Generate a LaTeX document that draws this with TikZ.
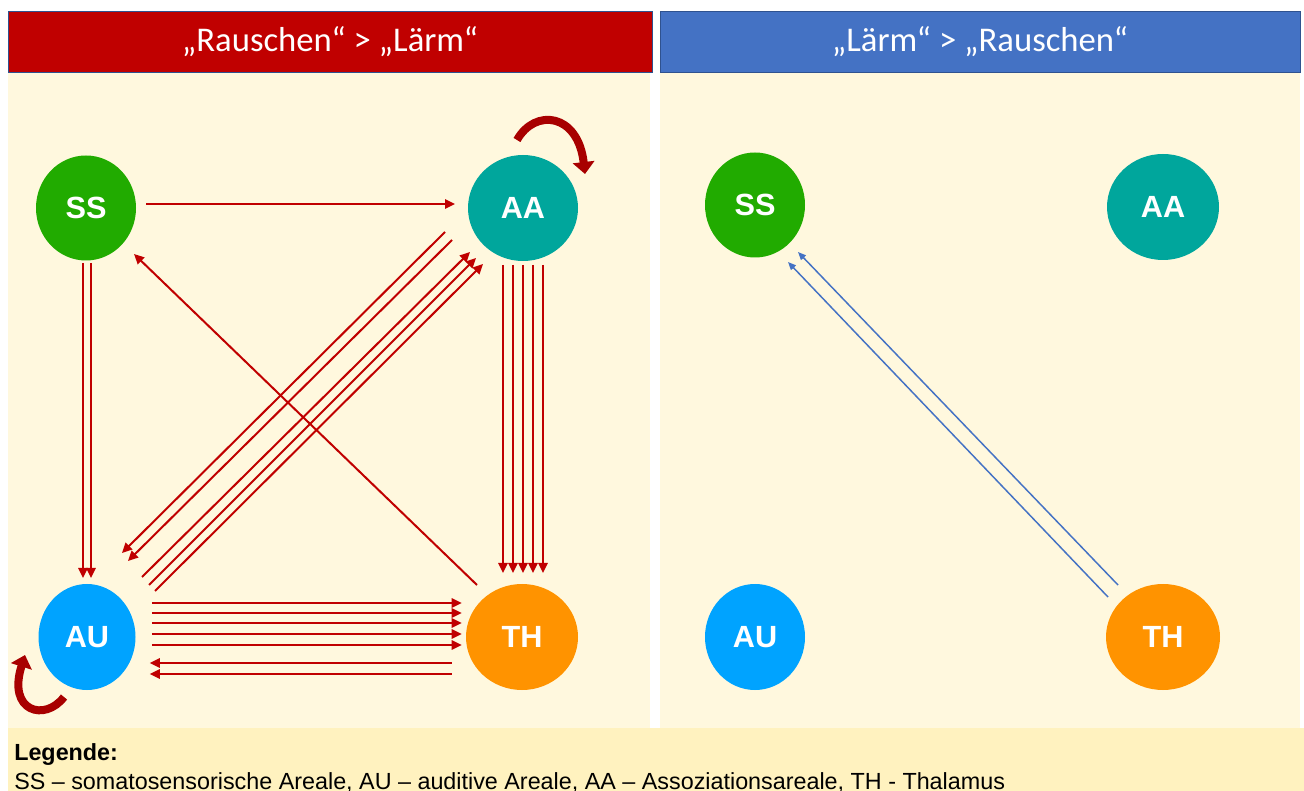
\documentclass[tikz,border=0pt]{standalone}
\usepackage{fontspec}
\setmainfont{Liberation Sans}
\newfontfamily\headfont{Carlito}
\usetikzlibrary{shapes.geometric,arrows.meta,calc}

\definecolor{hred}{HTML}{C00000}
\definecolor{hblue}{HTML}{4472C4}
\definecolor{hline}{HTML}{2F528F}
\definecolor{panel}{HTML}{FFF8DE}
\definecolor{legbg}{HTML}{FFF2BF}
\definecolor{ssgreen}{HTML}{21AB00}
\definecolor{aateal}{HTML}{00A69C}
\definecolor{aublue}{HTML}{00A3FF}
\definecolor{thorange}{HTML}{FF9300}
\definecolor{linkred}{HTML}{C00000}
\definecolor{loopred}{HTML}{A80000}
\definecolor{linkblue}{HTML}{4472C4}

\tikzset{
  area/.style={ellipse, inner sep=0pt, text=white,
    font=\fontsize{23}{23}\selectfont\bfseries},
  header/.style={draw=hline, line width=0.5pt, text=white,
    minimum height=45.75pt, inner sep=0pt,
    font=\headfont\fontsize{26}{26}\selectfont},
  link/.style={draw=linkred, line width=1.5pt,
    -{Triangle[length=7.5pt,width=7pt]}},
  bluelink/.style={draw=linkblue, line width=1.1pt,
    -{Triangle[length=6pt,width=5pt]}},
  selfloop/.style={draw=loopred, line width=6pt,
    -{Triangle[length=9pt,width=16pt]}},
}

\begin{document}
\begin{tikzpicture}[x=0.75pt,y=-0.75pt]
\useasboundingbox (0,0) rectangle (1304,791);
\fill[white] (0,0) rectangle (1304,791);

% panel backgrounds
\fill[panel] (8,72) rectangle (650,728);
\fill[panel] (660,72) rectangle (1300,728);
\fill[legbg] (8,728) rectangle (1304,791);

% headers
\node[header, fill=hred, minimum width=483pt] (hleft) at (330,41.5)
  {„Rauschen“ > „Lärm“};
\node[header, fill=hblue, minimum width=480pt] (hright) at (980,42)
  {„Lärm“ > „Rauschen“};

% areas, left panel
\node[area, fill=ssgreen,  minimum width=75pt,   minimum height=78.75pt] (ss) at (86,208)  {SS};
\node[area, fill=aateal,   minimum width=82.5pt, minimum height=79.5pt]  (aa) at (523,208) {AA};
\node[area, fill=aublue,   minimum width=72.75pt,minimum height=79.5pt]  (au) at (87,637)  {AU};
\node[area, fill=thorange, minimum width=84pt,   minimum height=79.5pt]  (th) at (522,637) {TH};

% areas, right panel
\node[area, fill=ssgreen,  minimum width=75pt,   minimum height=78.75pt] (ss2) at (755,205)  {SS};
\node[area, fill=aateal,   minimum width=84pt,   minimum height=79.5pt]  (aa2) at (1163,207) {AA};
\node[area, fill=aublue,   minimum width=75pt,   minimum height=79.5pt]  (au2) at (755,637)  {AU};
\node[area, fill=thorange, minimum width=85.5pt, minimum height=79.5pt]  (th2) at (1163,637) {TH};

% SS -> AA
\draw[link] ($(ss)+(60,-4)$) -- ($(aa)+(-68,-4)$);
% SS -> AU (two)
\foreach \dx in {-3,5}
  \draw[link] ($(ss)+(\dx,55)$) -- ($(au)+(\dx-1,-59)$);
% AA -> TH (five)
\foreach \dx in {-20,-10,0,10,20}
  \draw[link] ($(aa)+(\dx,57)$) -- ($(th)+(\dx+1,-64)$);
% TH -> SS
\draw[link] ($(th)+(-45,-52)$) -- ($(ss)+(48,46)$);
% AA -> AU (two)
\draw[link] ($(aa)+(-78,24)$) -- ($(au)+(35,-84)$);
\draw[link] ($(aa)+(-71,32)$) -- ($(au)+(41,-76)$);
% AU -> AA (three)
\draw[link] ($(au)+(55,-60)$) -- ($(aa)+(-53,44)$);
\draw[link] ($(au)+(62,-52)$) -- ($(aa)+(-47,50)$);
\draw[link] ($(au)+(68,-46)$) -- ($(aa)+(-40,56)$);
% AU -> TH (five)
\foreach \y in {603,613,623,634,645}
  \draw[link] (au.east |- 0,\y) ++(16,0) -- ($(th.west |- 0,\y)+(-4,0)$);
% TH -> AU (two)
\foreach \y in {663,674}
  \draw[link] ($(th.west |- 0,\y)+(-14,0)$) -- ($(au.east |- 0,\y)+(14,0)$);

% self loops
\draw[selfloop] ($(aa)+(-6,-68)$) .. controls ($(aa)+(12,-100)$) and ($(aa)+(55,-95)$) .. ($(aa)+(62,-34)$);
\draw[selfloop] ($(au)+(-23,60)$) .. controls ($(au)+(-42,85)$) and ($(au)+(-80,75)$) .. ($(au)+(-62,18)$);

% TH -> SS, right panel (two)
\draw[bluelink] ($(th2)+(-45,-52)$) -- ($(ss2)+(43,47)$);
\draw[bluelink] ($(th2)+(-55,-40)$) -- ($(ss2)+(33,57)$);

% legend
\node[anchor=base west, inner sep=0pt, font=\fontsize{17.5}{17.5}\selectfont\bfseries] (legtitle) at (14,760) {Legende:};
\node[anchor=base west, inner sep=0pt, font=\fontsize{17.5}{17.5}\selectfont] (legtext) at (14,789)
  {SS – somatosensorische Areale, AU – auditive Areale, AA – Assoziationsareale, TH - Thalamus};
\end{tikzpicture}
\end{document}
